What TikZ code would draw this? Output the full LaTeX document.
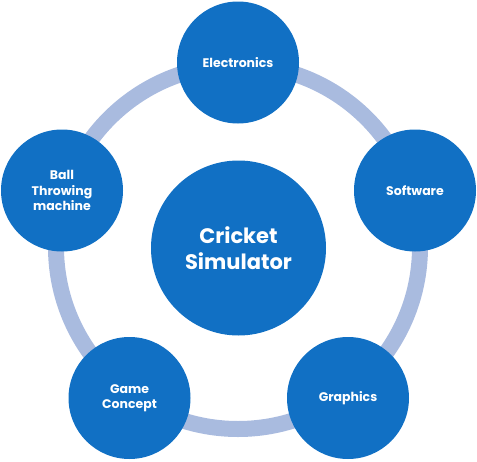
\documentclass[tikz,border=0pt]{standalone}
\usepackage{fontspec}
\setmainfont{Poppins}
\definecolor{nodeblue}{HTML}{1170C4}
\definecolor{ringblue}{HTML}{A9BBDF}
\begin{document}
\begin{tikzpicture}[x=1pt,y=-1pt,
  bub/.style={circle,fill=nodeblue,draw=none,minimum size=122pt,inner sep=0pt,
    text=white,font=\bfseries\fontsize{12.5}{15.5}\selectfont,align=center},
  hub/.style={circle,fill=nodeblue,draw=none,minimum size=175pt,inner sep=0pt,
    text=white,font=\bfseries\fontsize{21}{26}\selectfont,align=center},
  ring/.style={draw=ringblue,line width=16pt}]
\useasboundingbox (0,0) rectangle (477,461);
\coordinate (rc) at (238,247);
\draw[ring] (rc) circle[radius=182];
\node[hub] (hub) at (238.5,248) {Cricket\\Simulator};
\node[bub] (ele) at (238,62.5) {Electronics};
\node[bub] (sof) at (415,190.5) {Software};
\node[bub] (gra) at (348,398) {Graphics};
\node[bub] (gam) at (129.5,398) {Game\\Concept};
\node[bub] (bal) at (62,190.5) {Ball\\Throwing\\machine};
\end{tikzpicture}
\end{document}
